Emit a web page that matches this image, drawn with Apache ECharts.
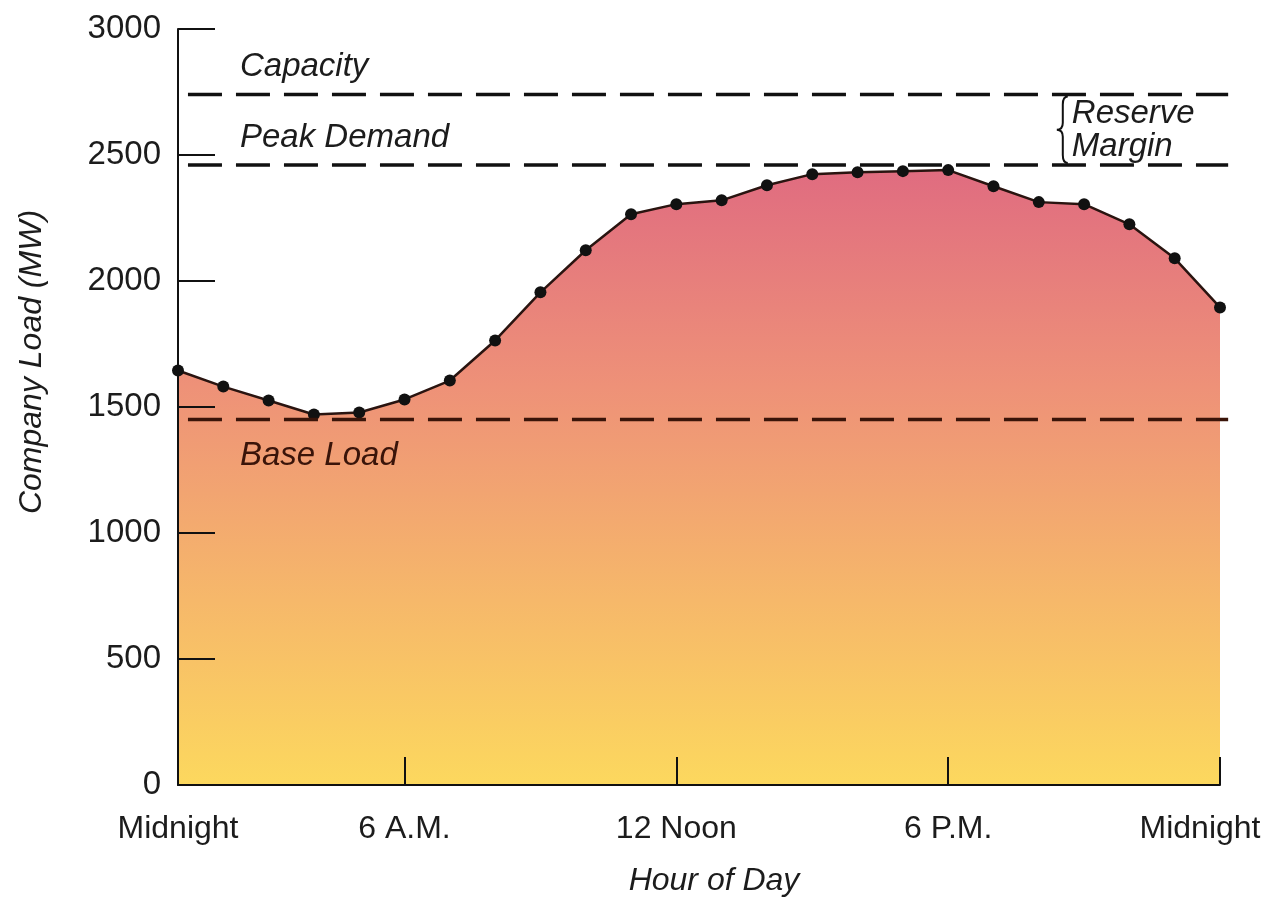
<!DOCTYPE html>
<html><head><meta charset="utf-8">
<script src="https://cdn.jsdelivr.net/npm/echarts@6/dist/echarts.min.js"></script>
<style>html,body{margin:0;padding:0;background:#fff}#c{width:1278px;height:906px}</style>
</head><body><div id="c"></div>
<script>
const hours = [0,1,2,3,4,5,6,7,8,9,10,11,12,13,14,15,16,17,18,19,20,21,22,23];
const load = [1645,1581,1526,1470,1478,1530,1605,1764,1955,2122,2265,2305,2320,2380,2424,2432,2436,2440,2376,2313,2305,2225,2090,1895];
const tickHours = [0,5,11,17,23];
const tickLabels = ['Midnight','6 A.M.','12 Noon','6 P.M.','Midnight'];
const refNames = ['Capacity','Peak Demand','Base Load'];
const refValues = [2740,2460,1450];
const reserveLabel = 'Reserve\nMargin';

const FONT = '"Liberation Sans", Arial, sans-serif';
const TXT = '#1c1c1c';
const chart = echarts.init(document.getElementById('c'), null, {renderer:'canvas'});

const refColors = ['#111111','#111111','#3a1409'];

const option = {
  animation:false,
  backgroundColor:'#ffffff',
  grid:{left:178, right:58, top:29, bottom:121, containLabel:false},
  xAxis:{
    type:'value', min:0, max:23, z:10,
    axisLine:{show:true, lineStyle:{color:'#111', width:2}},
    axisTick:{show:true, inside:true, length:28, customValues:[5,11,17,23], lineStyle:{color:'#111', width:2}},
    axisLabel:{customValues: tickHours, fontSize:32, fontFamily:FONT, color:TXT, margin:28,
      formatter:(v)=>{ const i = tickHours.indexOf(Math.round(v)); if(i<0) return '';
        return i===tickHours.length-1 ? '{m|'+tickLabels[i]+'}' : tickLabels[i]; },
      rich:{m:{fontSize:32, fontFamily:FONT, color:TXT, padding:[0,40,0,0]}}},
    splitLine:{show:false},
    name:'Hour of Day', nameLocation:'middle', nameGap:80,
    nameTextStyle:{fontSize:32, fontStyle:'italic', fontFamily:FONT, color:TXT, padding:[0,0,0,30]}
  },
  yAxis:{
    type:'value', min:0, max:3000, interval:500, z:10,
    axisLine:{show:true, lineStyle:{color:'#111', width:2}},
    axisTick:{show:true, inside:true, length:37, lineStyle:{color:'#111', width:2}},
    axisLabel:{fontSize:33, fontFamily:FONT, color:TXT, margin:17, formatter:(v)=>String(v)},
    splitLine:{show:false},
    name:'Company Load (MW)', nameLocation:'middle', nameGap:130, nameRotate:90,
    nameTextStyle:{fontSize:32, fontStyle:'italic', fontFamily:FONT, color:TXT, padding:[0,0,0,90]}
  },
  series:[
    {
      type:'line', data: hours.map((h,i)=>[h, load[i]]),
      symbol:'circle', symbolSize:12, showAllSymbol:true,
      itemStyle:{color:'#111'},
      lineStyle:{color:'#2a1410', width:2.5},
      areaStyle:{opacity:1, color:new echarts.graphic.LinearGradient(0,0,0,1,[
        {offset:0, color:'#e06c80'},
        {offset:0.35, color:'#ee9178'},
        {offset:0.7, color:'#f6b86a'},
        {offset:1, color:'#fcd85e'}
      ])},
      z:3
    },
    {
      type:'custom', silent:true, z:5, clip:false,
      data: refValues.map((v,i)=>[v, i]),
      renderItem:(params, api)=>{
        const v = api.value(0), i = api.value(1);
        const p0 = api.coord([0.22, v]);
        const p1 = api.coord([23.18, v]);
        const below = i===2;
        return {type:'group', children:[
          {type:'line', shape:{x1:p0[0], y1:p0[1], x2:p1[0], y2:p1[1]},
           style:{stroke:refColors[i], lineWidth:3.5, lineDash:[34,14]}},
          {type:'text', style:{text:refNames[i], x:p0[0]+52, y: below ? p0[1]+20 : p0[1]-11,
            align:'left', verticalAlign: below ? 'top' : 'bottom',
            fontSize:33, fontStyle:'italic', fontFamily:FONT, fill: below ? '#3a1409' : TXT}}
        ]};
      }
    },
    {
      type:'custom', silent:true, z:6, clip:false,
      data:[[refValues[0], refValues[1]]],
      renderItem:(params, api)=>{
        const top = api.coord([19.53, api.value(0)]);
        const bot = api.coord([19.53, api.value(1)]);
        const x = top[0], y1 = top[1]+2, y2 = bot[1]-2, ym = (y1+y2)/2;
        const d = `M${x+5} ${y1} Q${x} ${y1} ${x} ${y1+8} L${x} ${ym-7} Q${x} ${ym} ${x-6} ${ym} Q${x} ${ym} ${x} ${ym+7} L${x} ${y2-8} Q${x} ${y2} ${x+5} ${y2}`;
        return {type:'group', children:[
          {type:'path', shape:{pathData:d}, style:{stroke:'#111', fill:null, lineWidth:2}},
          {type:'text', style:{text:reserveLabel, x:x+9, y:ym+1, align:'left', verticalAlign:'middle',
            fontSize:33, fontStyle:'italic', fontFamily:FONT, fill:TXT, lineHeight:33}}
        ]};
      }
    }
  ]
};
chart.setOption(option);
</script>
</body></html>
